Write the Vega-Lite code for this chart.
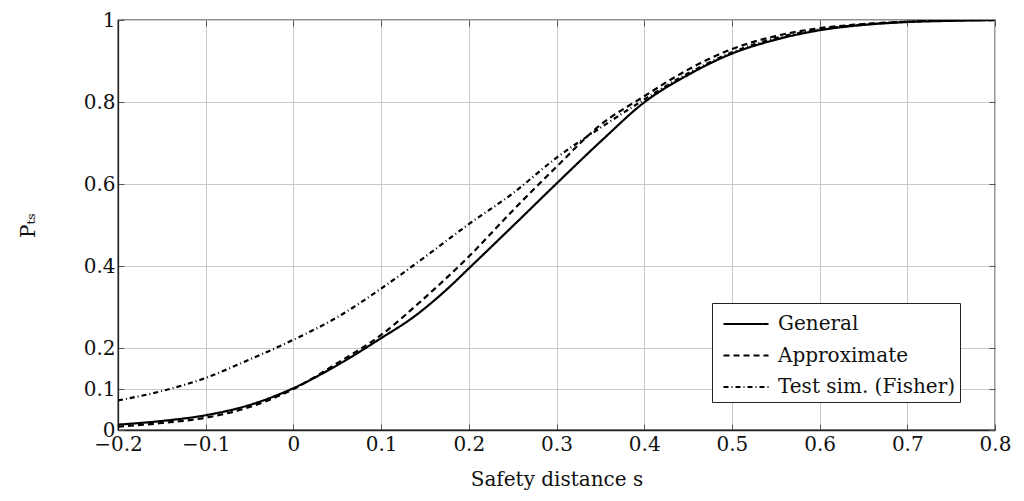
{
  "$schema": "https://vega.github.io/schema/vega-lite/v6.json",
  "width": 877,
  "height": 410,
  "autosize": "none",
  "padding": {"left": 118, "top": 20, "right": 29, "bottom": 71},
  "background": "white",
  "config": {
    "font": "DejaVu Serif",
    "view": {"stroke": "#222", "strokeWidth": 1.3},
    "axis": {"labelFont": "DejaVu Serif", "titleFont": "DejaVu Serif", "labelFontSize": 20, "titleFontSize": 20, "labelColor": "#111", "titleColor": "#111", "titleFontWeight": "normal", "gridColor": "#c8c8c8", "gridWidth": 1, "domainColor": "#222", "domainWidth": 1.3, "tickColor": "#555", "tickSize": -6, "tickWidth": 1}
  },
  "data": {"values": [
    {"s": -0.2, "P": 0.013, "series": "General"},
    {"s": -0.15, "P": 0.022, "series": "General"},
    {"s": -0.1, "P": 0.036, "series": "General"},
    {"s": -0.05, "P": 0.061, "series": "General"},
    {"s": 0.0, "P": 0.102, "series": "General"},
    {"s": 0.05, "P": 0.158, "series": "General"},
    {"s": 0.1, "P": 0.224, "series": "General"},
    {"s": 0.136, "P": 0.274, "series": "General"},
    {"s": 0.178, "P": 0.349, "series": "General"},
    {"s": 0.2, "P": 0.394, "series": "General"},
    {"s": 0.25, "P": 0.497, "series": "General"},
    {"s": 0.3, "P": 0.601, "series": "General"},
    {"s": 0.353, "P": 0.709, "series": "General"},
    {"s": 0.4, "P": 0.799, "series": "General"},
    {"s": 0.45, "P": 0.866, "series": "General"},
    {"s": 0.5, "P": 0.918, "series": "General"},
    {"s": 0.55, "P": 0.952, "series": "General"},
    {"s": 0.6, "P": 0.975, "series": "General"},
    {"s": 0.65, "P": 0.988, "series": "General"},
    {"s": 0.7, "P": 0.995, "series": "General"},
    {"s": 0.75, "P": 0.998, "series": "General"},
    {"s": 0.8, "P": 1.0, "series": "General"},
    {"s": -0.2, "P": 0.008, "series": "Approximate"},
    {"s": -0.15, "P": 0.017, "series": "Approximate"},
    {"s": -0.1, "P": 0.030, "series": "Approximate"},
    {"s": -0.05, "P": 0.056, "series": "Approximate"},
    {"s": 0.0, "P": 0.100, "series": "Approximate"},
    {"s": 0.05, "P": 0.163, "series": "Approximate"},
    {"s": 0.1, "P": 0.232, "series": "Approximate"},
    {"s": 0.15, "P": 0.323, "series": "Approximate"},
    {"s": 0.2, "P": 0.423, "series": "Approximate"},
    {"s": 0.25, "P": 0.535, "series": "Approximate"},
    {"s": 0.3, "P": 0.642, "series": "Approximate"},
    {"s": 0.35, "P": 0.744, "series": "Approximate"},
    {"s": 0.4, "P": 0.814, "series": "Approximate"},
    {"s": 0.45, "P": 0.879, "series": "Approximate"},
    {"s": 0.5, "P": 0.929, "series": "Approximate"},
    {"s": 0.55, "P": 0.961, "series": "Approximate"},
    {"s": 0.6, "P": 0.980, "series": "Approximate"},
    {"s": 0.65, "P": 0.990, "series": "Approximate"},
    {"s": 0.7, "P": 0.996, "series": "Approximate"},
    {"s": 0.75, "P": 0.999, "series": "Approximate"},
    {"s": 0.8, "P": 1.0, "series": "Approximate"},
    {"s": -0.2, "P": 0.072, "series": "Test sim. (Fisher)"},
    {"s": -0.15, "P": 0.095, "series": "Test sim. (Fisher)"},
    {"s": -0.1, "P": 0.127, "series": "Test sim. (Fisher)"},
    {"s": -0.05, "P": 0.172, "series": "Test sim. (Fisher)"},
    {"s": 0.0, "P": 0.220, "series": "Test sim. (Fisher)"},
    {"s": 0.05, "P": 0.275, "series": "Test sim. (Fisher)"},
    {"s": 0.1, "P": 0.345, "series": "Test sim. (Fisher)"},
    {"s": 0.15, "P": 0.422, "series": "Test sim. (Fisher)"},
    {"s": 0.2, "P": 0.502, "series": "Test sim. (Fisher)"},
    {"s": 0.25, "P": 0.577, "series": "Test sim. (Fisher)"},
    {"s": 0.3, "P": 0.664, "series": "Test sim. (Fisher)"},
    {"s": 0.35, "P": 0.737, "series": "Test sim. (Fisher)"},
    {"s": 0.4, "P": 0.806, "series": "Test sim. (Fisher)"},
    {"s": 0.45, "P": 0.870, "series": "Test sim. (Fisher)"},
    {"s": 0.5, "P": 0.921, "series": "Test sim. (Fisher)"},
    {"s": 0.55, "P": 0.956, "series": "Test sim. (Fisher)"},
    {"s": 0.6, "P": 0.977, "series": "Test sim. (Fisher)"},
    {"s": 0.65, "P": 0.989, "series": "Test sim. (Fisher)"},
    {"s": 0.7, "P": 0.996, "series": "Test sim. (Fisher)"},
    {"s": 0.75, "P": 0.999, "series": "Test sim. (Fisher)"},
    {"s": 0.8, "P": 1.0, "series": "Test sim. (Fisher)"}
  ]},
  "layer": [
    {
      "mark": {"type": "line", "color": "#000", "strokeWidth": 2.2, "interpolate": "monotone", "clip": true},
      "encoding": {
        "x": {"field": "s", "type": "quantitative",
          "scale": {"domain": [-0.2, 0.8], "nice": false, "zero": false},
          "axis": {"title": "Safety distance s", "values": [-0.2, -0.1, 0, 0.1, 0.2, 0.3, 0.4, 0.5, 0.6, 0.7, 0.8], "format": "~g", "labelPadding": 10, "titlePadding": 15, "labelFlush": false}},
        "y": {"field": "P", "type": "quantitative",
          "scale": {"domain": [0, 1], "nice": false},
          "axis": {"title": "Pₜₛ", "values": [0, 0.1, 0.2, 0.4, 0.6, 0.8, 1], "format": "~g", "labelPadding": 9, "titlePadding": 45, "labelFlush": false}},
        "strokeDash": {"field": "series", "type": "nominal",
          "scale": {"domain": ["General", "Approximate", "Test sim. (Fisher)"], "range": [[1, 0], [6, 4], [5, 3, 1, 3]]},
          "legend": {"title": null, "orient": "none", "legendX": 594, "legendY": 283, "symbolType": "M-1.5,0H1.5", "symbolSize": 900, "symbolStrokeWidth": 2.2, "symbolStrokeColor": "#000", "labelFont": "DejaVu Serif", "labelFontSize": 20, "labelColor": "#111", "labelLimit": 400, "fillColor": "white", "strokeColor": "#222", "padding": 4.5, "rowPadding": 4.5, "labelOffset": 15.5, "symbolOffset": 13}}
      }
    },
    {
      "mark": {"type": "rule", "opacity": 0},
      "encoding": {
        "x": {"field": "s", "type": "quantitative",
          "axis": {"orient": "top", "labels": false, "title": null, "grid": false, "domain": false, "values": [-0.2, -0.1, 0, 0.1, 0.2, 0.3, 0.4, 0.5, 0.6, 0.7, 0.8]}},
        "y": {"field": "P", "type": "quantitative",
          "axis": {"orient": "right", "labels": false, "title": null, "grid": false, "domain": false, "values": [0, 0.1, 0.2, 0.4, 0.6, 0.8, 1]}}
      }
    }
  ],
  "resolve": {"axis": {"x": "independent", "y": "independent"}}
}
